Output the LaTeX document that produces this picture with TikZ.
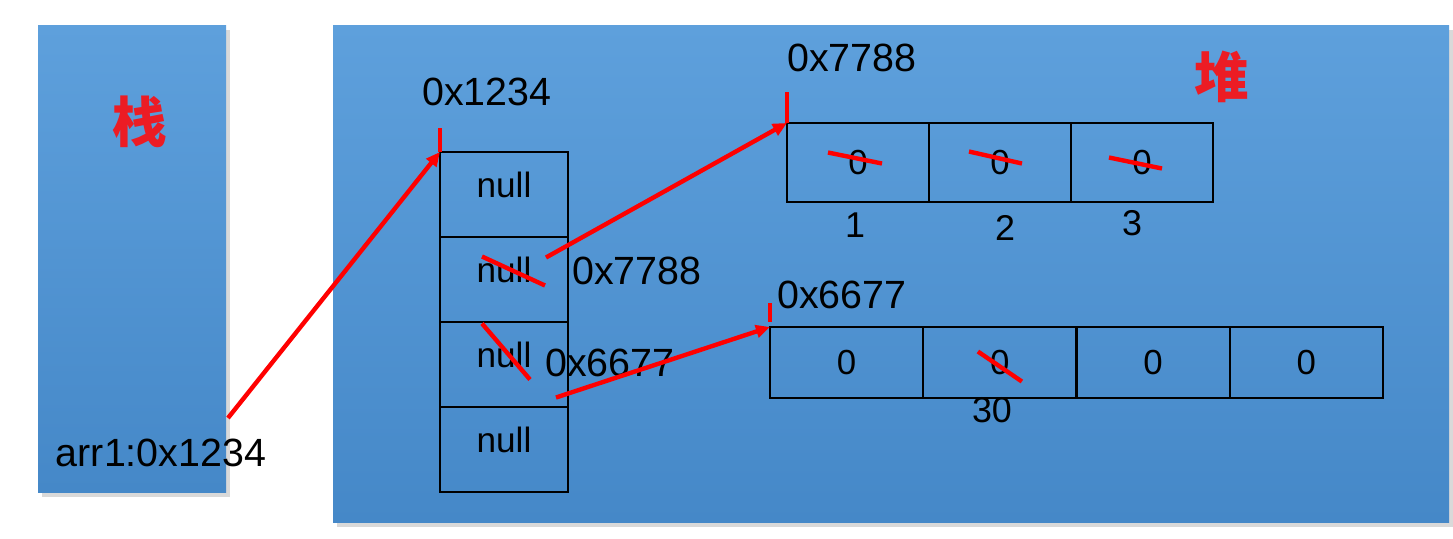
\documentclass[tikz,border=0pt]{standalone}
\usepackage{fontspec}
\setmainfont{Liberation Sans}
\newfontfamily\cjkfont{Noto Sans CJK SC}
\usetikzlibrary{arrows.meta,positioning,shadows}
\definecolor{boxtop}{RGB}{94,160,220}
\definecolor{boxbot}{RGB}{69,136,200}
\definecolor{markred}{RGB}{255,0,0}
\definecolor{titlered}{RGB}{236,28,36}
\tikzset{
  memarea/.style={top color=boxtop, bottom color=boxbot, draw=none,
    drop shadow={shadow xshift=1.2pt, shadow yshift=-1.5pt, opacity=0.3}},
  title/.style={text=titlered, font=\cjkfont\bfseries\fontsize{15.5}{16}\selectfont},
  addr/.style={font=\fontsize{11.2}{12}\selectfont, inner sep=0pt},
  idx/.style={font=\fontsize{10.2}{11}\selectfont, inner sep=0pt},
  nulltext/.style={font=\fontsize{10}{10}\selectfont, inner sep=0pt, yshift=2.6pt},
  nullcell/.style={draw=black, line width=0.6pt, inner sep=0pt, outer sep=0pt,
    minimum width=1.28cm, minimum height=0.85cm},
  cellA/.style={nullcell, minimum width=1.42cm, minimum height=0.79cm, font=\fontsize{9.9}{10}\selectfont},
  cellB/.style={nullcell, minimum width=1.5325cm, minimum height=0.71cm, font=\fontsize{9.9}{10}\selectfont},
  strike/.style={markred, line width=1.25pt},
  ptr/.style={markred, line width=1.25pt, -{Triangle[length=4pt,width=3.6pt]}}
}
\begin{document}
\begin{tikzpicture}[x=0.01cm, y=-0.01cm]
  \useasboundingbox (0,0) rectangle (1453,538);
  % stack and heap areas
  \fill[memarea] (38,25) rectangle (226,492);
  \fill[memarea] (333,25) rectangle (1449,522);
  \node[title] (stk) at (140,122) {栈};
  \node[title] (hp) at (1222,77) {堆};
  \node[addr] (arr1) at (161,453) {arr1:0x1234};
  \coordinate (p1) at (228,418);

  % outer array
  \foreach \i in {1,...,4}
    \node[nullcell, label={[nulltext]center:null}] (n\i) at (504,109.5+85*\i) {};
  \node[addr] (addr1) at (487,92) {0x1234};
  \draw[strike] (n1.north west) -- ++(0,-24);
  \draw[ptr] (p1) -- (n1.north west);

  % first inner array
  \foreach \i in {1,2,3}
    \node[cellA] (a\i) at (716+142*\i,162.5) {0};
  \node[addr] (addr2) at (852,58) {0x7788};
  \node[idx] (i1) at (855,225) {1};
  \node[idx] (i2) at (1005,228) {2};
  \node[idx] (i3) at (1132,223) {3};
  \draw[strike] ([shift={(-30,-10)}]a1.center) -- ([shift={(24,1)}]a1.center);
  \draw[strike] ([shift={(-31,-11)}]a2.center) -- ([shift={(22,1)}]a2.center);
  \draw[strike] ([shift={(-33,-5)}]a3.center) -- ([shift={(20,6)}]a3.center);
  \draw[strike] (a1.north west) -- ++(0,-31);

  % second inner array
  \foreach \i in {1,...,4}
    \node[cellB] (b\i) at (693.4+153.25*\i,362.5) {0};
  \node[addr] (addr3) at (842,295) {0x6677};
  \node[idx] (v30) at (992,410) {30};
  \draw[strike] ([shift={(-22,-11)}]b2.center) -- ([shift={(22,19)}]b2.center);
  \draw[strike] ([shift={(0,-5)}]b1.north west) -- ++(0,-19);

  % crossed-out nulls and pointers
  \node[addr] (addr4) at (637,271) {0x7788};
  \node[addr] (addr5) at (610,363) {0x6677};
  \draw[strike] ([shift={(-22,-23)}]n2.center) -- ([shift={(41,6)}]n2.center);
  \draw[strike] ([shift={(-22,-41)}]n3.center) -- ([shift={(26,15)}]n3.center);
  \draw[ptr] ([shift={(42,-22)}]n2.center) -- (a1.north west);
  \draw[ptr] ([shift={(52,33)}]n3.center) -- (b1.north west);
\end{tikzpicture}
\end{document}
